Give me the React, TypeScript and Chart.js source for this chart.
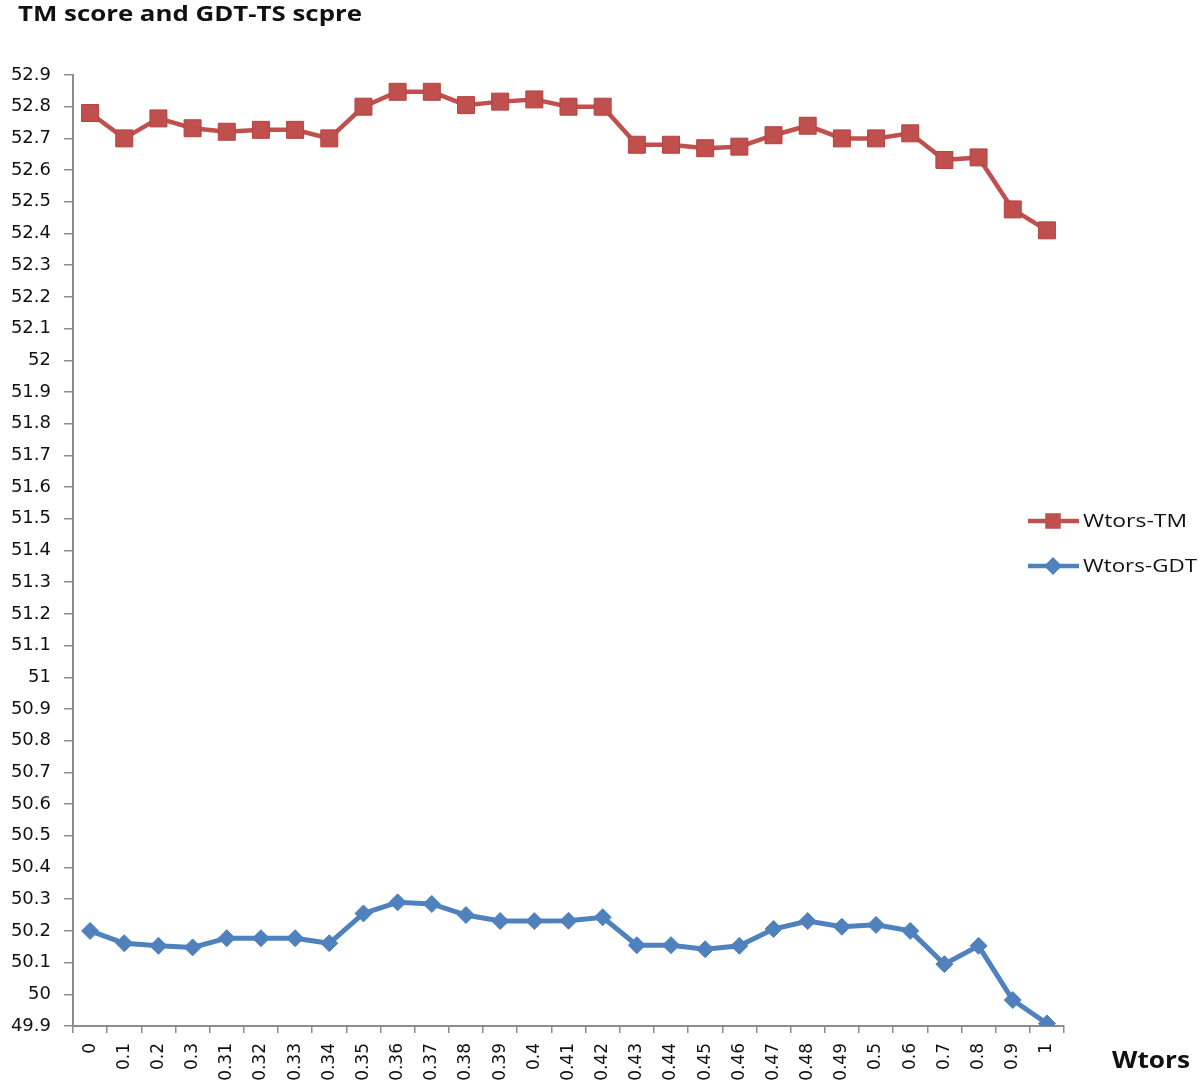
import React, { useEffect, useRef } from "react";
import { Chart, registerables } from "chart.js";

Chart.register(...registerables);

const categories = ["0", "0.1", "0.2", "0.3", "0.31", "0.32", "0.33", "0.34", "0.35", "0.36", "0.37", "0.38", "0.39", "0.4", "0.41", "0.42", "0.43", "0.44", "0.45", "0.46", "0.47", "0.48", "0.49", "0.5", "0.6", "0.7", "0.8", "0.9", "1"];

const wtorsTM = [52.78, 52.70, 52.763, 52.732, 52.721, 52.727, 52.727, 52.70, 52.80, 52.847, 52.847, 52.805, 52.816, 52.823, 52.80, 52.80, 52.68, 52.68, 52.669, 52.674, 52.71, 52.74, 52.70, 52.70, 52.716, 52.632, 52.64, 52.476, 52.41];

const wtorsGDT = [50.20, 50.161, 50.153, 50.148, 50.177, 50.177, 50.177, 50.161, 50.255, 50.29, 50.285, 50.25, 50.231, 50.231, 50.232, 50.243, 50.155, 50.155, 50.142, 50.153, 50.206, 50.231, 50.213, 50.219, 50.20, 50.095, 50.153, 49.982, 49.908];

const seriesNames = ["Wtors-TM", "Wtors-GDT"];
const chartTitle = "TM score and GDT-TS scpre";
const xAxisTitle = "Wtors";
const yMin = 49.9;
const yMax = 52.9;
const yStep = 0.1;

const RED = "#C0504D";
const BLUE = "#4F81BD";
const AXIS = "#8C8C8C";
const TEXT_FONT = "'Open Sans', sans-serif";
const TICK_FONT = "'DejaVu Sans', sans-serif";

function drawStretched(ctx: any, text: string, x: number, y: number, font: string, targetWidth: number) {
  ctx.font = font;
  const w = ctx.measureText(text).width;
  const sx = targetWidth / w;
  ctx.save();
  ctx.translate(x, y);
  ctx.scale(sx, 1);
  ctx.textAlign = "left";
  ctx.textBaseline = "middle";
  ctx.fillText(text, 0, 0);
  ctx.restore();
}

const overlayPlugin = {
  id: "overlay",
  afterDraw(chart: any) {
    const ctx = chart.ctx;
    ctx.save();
    ctx.fillStyle = "#111";
    drawStretched(ctx, chartTitle, 18, 15, `bold 22px ${TEXT_FONT}`, 344);
    drawStretched(ctx, xAxisTitle, 1112, 1061, `bold 24px ${TEXT_FONT}`, 78);
    const items = [
      { text: seriesNames[0], color: RED, y: 521, style: "rect", r: 11, w: 104 },
      { text: seriesNames[1], color: BLUE, y: 566, style: "rectRot", r: 9, w: 114 },
    ];
    items.forEach((it) => {
      ctx.strokeStyle = it.color;
      ctx.lineWidth = 4.5;
      ctx.beginPath();
      ctx.moveTo(1028, it.y);
      ctx.lineTo(1079, it.y);
      ctx.stroke();
      ctx.fillStyle = it.color;
      ctx.beginPath();
      if (it.style === "rect") {
        const s = it.r * Math.SQRT1_2;
        ctx.rect(1053 - s, it.y - s, 2 * s, 2 * s);
      } else {
        ctx.moveTo(1053 - it.r, it.y);
        ctx.lineTo(1053, it.y - it.r);
        ctx.lineTo(1053 + it.r, it.y);
        ctx.lineTo(1053, it.y + it.r);
        ctx.closePath();
      }
      ctx.fill();
      ctx.fillStyle = "#111";
      drawStretched(ctx, it.text, 1083, it.y + 1, `19px ${TEXT_FONT}`, it.w);
    });
    ctx.restore();
  },
};

export default function App() {
  const ref = useRef<HTMLCanvasElement>(null);
  useEffect(() => {
    if (!ref.current) return;
    const chart = new Chart(ref.current, {
      type: "line",
      data: {
        labels: categories,
        datasets: [
          {
            label: seriesNames[0],
            data: wtorsTM,
            borderColor: RED,
            backgroundColor: RED,
            borderWidth: 4.5,
            pointStyle: "rect",
            pointRadius: 12,
            pointBorderColor: "#B4423F",
            pointBorderWidth: 1,
            pointBackgroundColor: RED,
            tension: 0,
          },
          {
            label: seriesNames[1],
            data: wtorsGDT,
            borderColor: BLUE,
            backgroundColor: BLUE,
            borderWidth: 5,
            pointStyle: "rectRot",
            pointRadius: 8.5,
            pointBorderColor: BLUE,
            pointBorderWidth: 1,
            pointBackgroundColor: BLUE,
            tension: 0,
          },
        ],
      },
      options: {
        responsive: false,
        animation: false,
        devicePixelRatio: 1,
        layout: { padding: { left: 0, right: 136, top: 75, bottom: 0 } },
        plugins: {
          legend: { display: false },
          title: { display: false },
          tooltip: { enabled: false },
        },
        scales: {
          x: {
            type: "category",
            offset: true,
            grid: {
              offset: true,
              drawOnChartArea: false,
              drawTicks: true,
              tickLength: 7,
              color: AXIS,
              lineWidth: 1.5,
            },
            border: { display: true, color: AXIS, width: 2 },
            ticks: {
              autoSkip: false,
              minRotation: 90,
              maxRotation: 90,
              padding: 10,
              color: "#111",
              font: { family: TICK_FONT, size: 17 },
            },
            afterFit: (scale: any) => {
              scale.height = 64;
            },
          },
          y: {
            min: yMin,
            max: yMax,
            grid: {
              drawOnChartArea: false,
              drawTicks: true,
              tickLength: 9,
              color: AXIS,
              lineWidth: 1.5,
            },
            border: { display: true, color: AXIS, width: 2 },
            ticks: {
              stepSize: yStep,
              padding: 13,
              color: "#111",
              font: { family: TICK_FONT, size: 18 },
              callback: (v: any) => String(Number(Number(v).toFixed(1))),
            },
            afterFit: (scale: any) => {
              scale.width = 73;
            },
          },
        },
      },
      plugins: [overlayPlugin],
    });
    return () => chart.destroy();
  }, []);
  return (
    <div style={{ position: "fixed", left: 0, top: 0, width: 1200, height: 1090, background: "#fff" }}>
      <canvas ref={ref} width={1200} height={1090} style={{ width: 1200, height: 1090, display: "block" }} />
    </div>
  );
}
